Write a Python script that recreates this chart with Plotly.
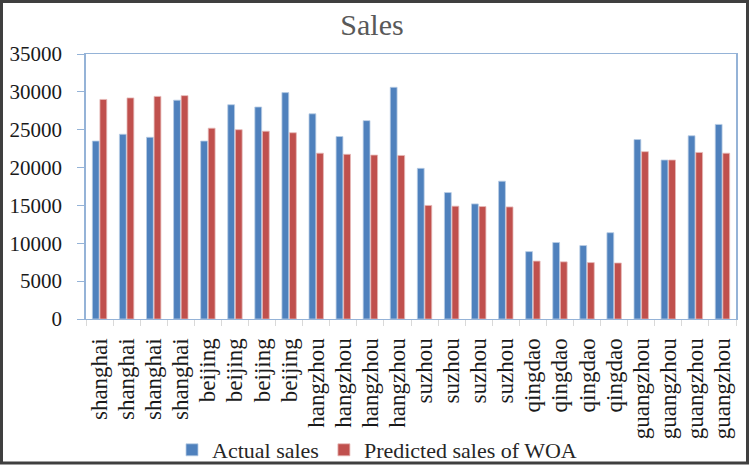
import plotly.graph_objects as go

cities = ["shanghai"] * 4 + ["beijing"] * 4 + ["hangzhou"] * 4 + ["suzhou"] * 4 + ["qingdao"] * 4 + ["guangzhou"] * 4
actual_sales = [23500, 24400, 24000, 28900,
                23500, 28300, 28000, 29900,
                27100, 24100, 26200, 30600,
                19900, 16700, 15200, 18200,
                8900, 10100, 9700, 11400,
                23700, 21000, 24200, 25700]
predicted_woa = [29000, 29200, 29400, 29500,
                 25200, 25000, 24800, 24600,
                 21900, 21750, 21650, 21600,
                 15000, 14900, 14850, 14800,
                 7650, 7550, 7450, 7400,
                 22100, 21000, 22000, 21900]
y_ticks = [0, 5000, 10000, 15000, 20000, 25000, 30000, 35000]
y_tick_text = [str(v) for v in y_ticks]

W, H = 750, 467
L, R, T, B = 86, 14, 54, 148
pw, ph = W - L - R, H - T - B
pos = list(range(len(cities)))

FONT = "Liberation Serif"
AXIS_BLUE = "#95B3D7"

fig = go.Figure()
fig.add_trace(go.Bar(x=pos, y=actual_sales, name="Actual sales",
                     marker=dict(color="#4F81BD", line=dict(color="#B9CDE5", width=0.8))))
fig.add_trace(go.Bar(x=pos, y=predicted_woa, name="Predicted sales of WOA",
                     marker=dict(color="#C0504D", line=dict(color="#E6B9B8", width=0.8))))

def px_x(v):
    return (v - L) / pw

def px_y(v):
    return (H - B - v) / ph

shapes = [
    # outer dark frame
    dict(type="rect", xref="paper", yref="paper",
         x0=px_x(1.5), x1=px_x(747.5), y0=px_y(463), y1=px_y(1.5),
         line=dict(color="#3F3F3F", width=3), layer="above"),
]

fig.update_layout(
    template="plotly_white",
    width=W, height=H,
    margin=dict(l=L, r=R, t=T, b=B, autoexpand=False),
    paper_bgcolor="white", plot_bgcolor="white",
    barmode="group", bargap=0.44, bargroupgap=0.1,
    title=dict(text="Sales", x=372 / W, xref="container", xanchor="center",
               y=1 - 24 / H, yref="container", yanchor="middle",
               font=dict(family=FONT, size=30, color="#595959")),
    font=dict(family=FONT, size=22, color="black"),
    xaxis=dict(range=[-0.5, len(cities) - 0.5], tickvals=pos, ticktext=cities,
               tickangle=-90, ticks="", showgrid=False, zeroline=False,
               showline=True, linecolor=AXIS_BLUE, linewidth=1.2, mirror=True,
               automargin=False, ticklabelstandoff=9,
               tickfont=dict(family=FONT, size=23, color="#1a1a1a"),
               minor=dict(ticks="outside", tick0=0.5, dtick=1, ticklen=6,
                          tickcolor="#D9D9D9", showgrid=False)),
    yaxis=dict(range=[0, 35000], tickvals=y_ticks, ticktext=y_tick_text,
               showgrid=False, zeroline=False,
               showline=True, linecolor=AXIS_BLUE, linewidth=1.5, mirror=True,
               ticks="outside", ticklen=7, tickcolor=AXIS_BLUE,
               automargin=False, ticklabelstandoff=11,
               tickfont=dict(family=FONT, size=21, color="#1a1a1a")),
    legend=dict(orientation="h", xref="container", x=377 / W, xanchor="center",
                yref="container", y=1 - 450 / H, yanchor="middle",
                bgcolor="rgba(0,0,0,0)",
                font=dict(family=FONT, size=22, color="#262626"),
                itemwidth=30, traceorder="normal"),
    shapes=shapes,
)

fig.write_html("out.html")
